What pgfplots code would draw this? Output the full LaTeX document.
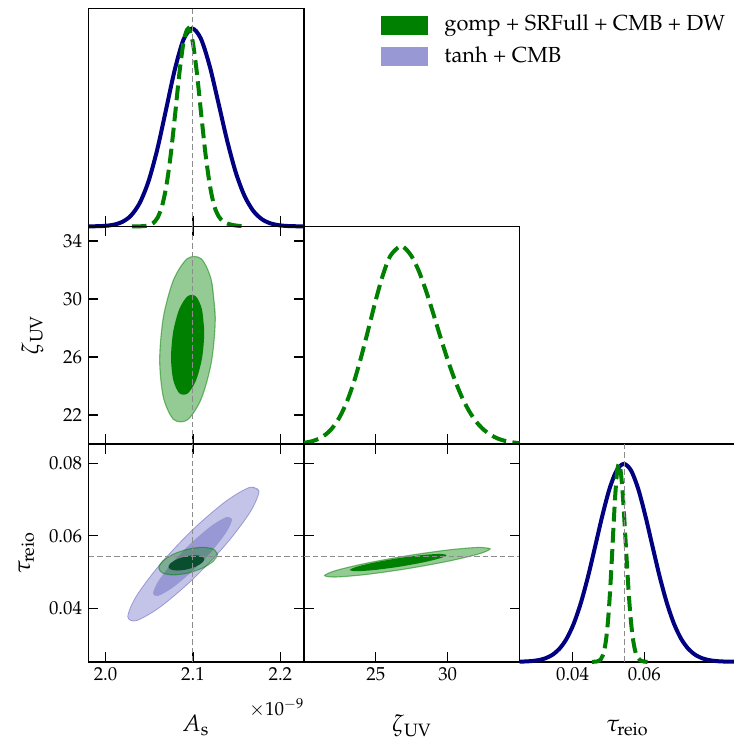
\documentclass[border=0pt]{standalone}
\usepackage[T1]{fontenc}
\usepackage{mathpazo}
\usepackage{pgfplots}
\pgfplotsset{compat=1.18}
\definecolor{gdark}{RGB}{0,128,0}
\definecolor{bnavy}{RGB}{0,0,128}
\definecolor{bl95}{RGB}{196,196,232}
\definecolor{bl68}{RGB}{152,152,212}
\definecolor{gteal}{RGB}{10,78,48}
\pgfplotsset{
  cbase/.style={
    scale only axis, width=215.5pt, height=217.7pt, anchor=south west,
    axis line style={line width=1.4pt},
    every tick/.style={black, line width=1.2pt},
    major tick length=10pt,
    tick align=inside,
    scaled ticks=false,
    clip=false,
    tick label style={font=\fontsize{18.8}{20}\selectfont},
    xticklabel style={yshift=-2.5pt},
    yticklabel style={xshift=-3pt},
    label style={font=\fontsize{23.5}{26}\selectfont},
    xlabel style={at={(axis description cs:0.5,-0.321)}, anchor=base},
  },
  asx/.style={xmin=1.9805, xmax=2.227, xtick={2.0,2.1,2.2}},
  zx/.style={xmin=20, xmax=35, xtick={25,30}},
  tx/.style={xmin=0.0252, xmax=0.0853, xtick={0.04,0.06}},
  oned/.style={ymin=0, ymax=1.1, ytick=\empty, xtick pos=left},
  b1d/.style={bnavy, line width=4pt, smooth, forget plot},
  g1d/.style={gdark, line width=4pt, smooth, dash pattern=on 14.8pt off 6.4pt, forget plot},
  refl/.style={black!45, line width=1pt, dash pattern=on 5.5pt off 3pt, forget plot},
  g95/.style={fill=gdark, fill opacity=0.42, draw=gdark, draw opacity=0.5, line width=1.1pt, smooth},
  g68/.style={fill=gdark, draw=none, smooth},
}
\begin{document}
\begin{tikzpicture}
\useasboundingbox (0,0) rectangle (734pt,740pt);

% ---------- row 1, col 1: A_s 1D ----------
\begin{axis}[cbase, asx, oned, at={(88.5pt,513.6pt)}, xticklabels={},
  legend style={at={(axis description cs:1.356,0.97)}, anchor=north west,
    draw=none, fill=none, inner sep=0pt, outer sep=0pt,
    font=\fontsize{21.8}{26}\selectfont, row sep=12pt,
    nodes={inner sep=0pt}},
  legend cell align=left]
\addplot[b1d] coordinates {(1.9805,0.0002) (1.989,0.0008) (1.999,0.0026) (2.009,0.0081) (2.019,0.0223) (2.029,0.0543) (2.039,0.1176) (2.049,0.226) (2.059,0.386) (2.069,0.586) (2.079,0.788) (2.089,0.942) (2.099,1) (2.109,0.949) (2.119,0.812) (2.129,0.626) (2.139,0.435) (2.149,0.272) (2.159,0.1537) (2.169,0.0782) (2.179,0.0358) (2.189,0.0148) (2.199,0.0055) (2.209,0.0018) (2.219,0.0006) (2.227,0.0002)};
\addplot[g1d] coordinates {(2.030,0) (2.0395,0.0004) (2.0445,0.0017) (2.0495,0.0057) (2.0545,0.0169) (2.0595,0.0439) (2.0645,0.1007) (2.0695,0.203) (2.0745,0.360) (2.0795,0.563) (2.0845,0.775) (2.0895,0.938) (2.0945,1) (2.0995,0.938) (2.1045,0.775) (2.1095,0.563) (2.1145,0.360) (2.1195,0.203) (2.1245,0.1007) (2.1295,0.050) (2.1345,0.025) (2.1395,0.014) (2.1445,0.008) (2.1495,0.004) (2.1545,0.002) (2.160,0)};
\addplot[refl] coordinates {(2.1,0) (2.1,1.1)};
\addlegendimage{legend image code/.code={\fill[gdark] (0pt,-10.5pt) rectangle (46.6pt,7.8pt); \path (63.3pt,0pt);}}
\addlegendentry{gomp + SRFull + CMB + DW}
\addlegendimage{legend image code/.code={\fill[bl68] (0pt,-10.5pt) rectangle (46.6pt,7.8pt); \path (63.3pt,0pt);}}
\addlegendentry{tanh + CMB}
\end{axis}

% ---------- row 2, col 1: A_s vs zeta ----------
\begin{axis}[cbase, asx, at={(88.5pt,295.9pt)}, xticklabels={},
  ymin=20, ymax=35, ytick={22,26,30,34}, yticklabels={22,26,30,34},
  ylabel={$\zeta_{\mathrm{UV}}$},
  ylabel style={at={(axis description cs:-0.234,0.5)}, anchor=base}]
\addplot[g95] coordinates {(2.1255,28.665) (2.1212,31.252) (2.1096,32.761) (2.0937,32.788) (2.0778,31.326) (2.0662,28.766) (2.0619,25.795) (2.0662,23.208) (2.0778,21.699) (2.0937,21.672) (2.1096,23.135) (2.1212,25.694) (2.1255,28.665) (2.1212,31.252)};
\addplot[g68] coordinates {(2.1129,27.705) (2.11035,29.264) (2.1034,30.174) (2.0939,30.19) (2.0844,29.309) (2.07745,27.766) (2.0749,25.975) (2.07745,24.416) (2.0844,23.507) (2.0939,23.49) (2.1034,24.372) (2.11035,25.914) (2.1129,27.705) (2.11035,29.264)};
\addplot[refl] coordinates {(2.1,20) (2.1,35)};
\end{axis}

% ---------- row 2, col 2: zeta 1D ----------
\begin{axis}[cbase, zx, oned, at={(304pt,295.9pt)}, xticklabels={}]
\addplot[g1d] coordinates {(20,0.0065) (20.5,0.0134) (21,0.026) (21.5,0.048) (22,0.084) (22.5,0.139) (23,0.217) (23.5,0.320) (24,0.446) (24.5,0.586) (25,0.729) (25.5,0.856) (26,0.950) (26.67,1) (27,0.992) (27.5,0.948) (28,0.873) (28.5,0.773) (29,0.659) (29.5,0.540) (30,0.426) (30.5,0.324) (31,0.236) (31.5,0.166) (32,0.112) (32.5,0.0732) (33,0.046) (33.5,0.0277) (34,0.016) (34.5,0.009) (35,0.0048)};
\end{axis}

% ---------- row 3, col 1: A_s vs tau ----------
\begin{axis}[cbase, asx, at={(88.5pt,78.2pt)}, xticklabels={2.0,2.1,2.2},
  ymin=0.0252, ymax=0.0853, ytick={0.04,0.06,0.08}, yticklabels={0.04,0.06,0.08},
  ylabel={$\tau_{\mathrm{reio}}$},
  ylabel style={at={(axis description cs:-0.272,0.5)}, anchor=base}]
\addplot[fill=bl95, draw=bl68, line width=0.8pt, smooth] coordinates {(2.1755,0.0723) (2.16545,0.0734) (2.138,0.06957) (2.1005,0.06184) (2.063,0.05227) (2.03555,0.04344) (2.0255,0.0377) (2.03555,0.0366) (2.063,0.04043) (2.1005,0.04816) (2.138,0.05773) (2.16545,0.06656) (2.1755,0.0723) (2.16545,0.0734)};
\addplot[fill=bl68, draw=none, smooth] coordinates {(2.1447,0.06453) (2.13864,0.06518) (2.1221,0.06292) (2.0995,0.05834) (2.0769,0.05269) (2.06036,0.04746) (2.0543,0.04407) (2.06036,0.04342) (2.0769,0.04569) (2.0995,0.05026) (2.1221,0.05592) (2.13864,0.06114) (2.1447,0.06453) (2.13864,0.06518)};
\addplot[g95, fill opacity=0.35] coordinates {(2.1279,0.0549) (2.12341,0.05629) (2.11115,0.0568) (2.0944,0.05629) (2.07765,0.0549) (2.06539,0.053) (2.0609,0.0511) (2.06539,0.04971) (2.07765,0.0492) (2.0944,0.04971) (2.11115,0.0511) (2.12341,0.053) (2.1279,0.0549) (2.12341,0.05629)};
\addplot[fill=gteal, draw=none, smooth] coordinates {(2.113,0.05355) (2.11025,0.05432) (2.10275,0.0546) (2.0925,0.05432) (2.08225,0.05355) (2.07475,0.0525) (2.072,0.05145) (2.07475,0.05068) (2.08225,0.0504) (2.0925,0.05068) (2.10275,0.05145) (2.11025,0.0525) (2.113,0.05355) (2.11025,0.05432)};
\addplot[refl] coordinates {(2.1,0.0252) (2.1,0.0853)};
\addplot[refl] coordinates {(1.9805,0.0544) (2.227,0.0544)};
\node[anchor=east, font=\fontsize{19}{21}\selectfont, inner sep=0pt, yshift=-46.5pt] at (rel axis cs:1,0) {$\times10^{-9}$};
\node[anchor=base west, font=\fontsize{23.5}{26}\selectfont, inner sep=0pt, yshift=-69.9pt] at (rel axis cs:0.434,0) {$A_{\mathrm{s}}$};
\end{axis}

% ---------- row 3, col 2: zeta vs tau ----------
\begin{axis}[cbase, zx, at={(304pt,78.2pt)}, xticklabels={25,30},
  ymin=0.0252, ymax=0.0853, ytick={0.04,0.06,0.08}, yticklabels={},
  xlabel={$\zeta_{\mathrm{UV}}$}]
\addplot[g95] coordinates {(32.96,0.05639) (32.188,0.05679) (30.08,0.0561) (27.2,0.05449) (24.32,0.0524) (22.212,0.0504) (21.44,0.04901) (22.212,0.04861) (24.32,0.0493) (27.2,0.05091) (30.08,0.053) (32.188,0.055) (32.96,0.05639) (32.188,0.05679)};
\addplot[g68] coordinates {(29.93,0.05467) (29.478,0.05499) (28.245,0.05467) (26.56,0.0538) (24.875,0.0526) (23.642,0.05141) (23.19,0.05053) (23.642,0.05021) (24.875,0.05053) (26.56,0.0514) (28.245,0.0526) (29.478,0.05379) (29.93,0.05467) (29.478,0.05499)};
\addplot[refl] coordinates {(20,0.0544) (35,0.0544)};
\end{axis}

% ---------- row 3, col 3: tau 1D ----------
\begin{axis}[cbase, tx, oned, at={(519.5pt,78.2pt)}, xticklabels={0.04,0.06},
  xlabel={$\tau_{\mathrm{reio}}$}]
\addplot[b1d] coordinates {(0.0252,0.0007) (0.0263,0.0013) (0.0283,0.0033) (0.0303,0.0078) (0.0323,0.0169) (0.0343,0.0343) (0.0363,0.0651) (0.0383,0.1154) (0.0403,0.1915) (0.0423,0.297) (0.0443,0.430) (0.0463,0.583) (0.0483,0.738) (0.0503,0.874) (0.0523,0.967) (0.0543,1) (0.0563,0.967) (0.0583,0.874) (0.0603,0.738) (0.0623,0.583) (0.0643,0.430) (0.0663,0.297) (0.0683,0.1915) (0.0703,0.1154) (0.0723,0.0651) (0.0743,0.0343) (0.0763,0.0169) (0.0783,0.0078) (0.0803,0.0033) (0.0823,0.0013) (0.0853,0.0003)};
\addplot[g1d] coordinates {(0.0454,0) (0.0469,0.002) (0.0479,0.0132) (0.0484,0.031) (0.0489,0.0628) (0.0494,0.120) (0.0499,0.211) (0.0504,0.339) (0.0509,0.500) (0.0514,0.678) (0.0519,0.841) (0.0524,0.958) (0.0529,1) (0.0534,0.966) (0.0539,0.871) (0.0544,0.732) (0.0549,0.575) (0.0554,0.421) (0.0559,0.287) (0.0564,0.183) (0.0569,0.109) (0.0574,0.060) (0.0579,0.0313) (0.0589,0.0068) (0.0599,0.0011) (0.0609,0)};
\addplot[refl] coordinates {(0.0544,0) (0.0544,1.1)};
\end{axis}
\end{tikzpicture}
\end{document}
